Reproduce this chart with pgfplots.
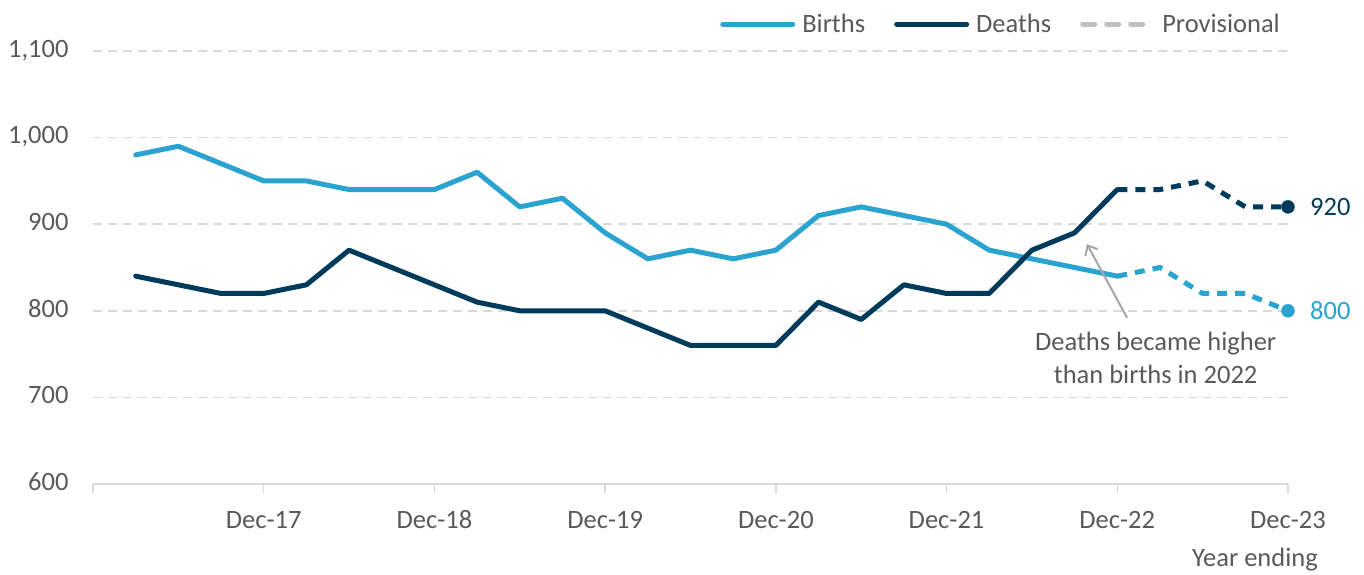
\documentclass[border=0pt]{standalone}
\usepackage{fontspec}
\setmainfont{Carlito}
\usepackage{pgfplots}
\pgfplotsset{compat=1.18}
\usetikzlibrary{arrows.meta}
\definecolor{births}{HTML}{2AA3D0}
\definecolor{deaths}{HTML}{003B5C}
\definecolor{txt}{HTML}{595959}
\definecolor{gridc}{HTML}{D9D9D9}
\definecolor{prov}{HTML}{BFBFBF}
\definecolor{arrowc}{HTML}{A6A6A6}
\begin{document}
\begin{tikzpicture}[font=\fontsize{26.5}{32}\selectfont]
\path[use as bounding box] (-93pt,-91pt) rectangle (1271pt,484pt);
\begin{axis}[
  at={(0pt,0pt)}, anchor=south west,
  scale only axis, width=1195pt, height=433pt,
  xmin=0, xmax=28, ymin=600, ymax=1100,
  clip=false,
  axis x line=bottom, axis y line=left,
  x axis line style={gridc, line width=1.5pt, -},
  y axis line style={draw=none},
  xtick={0,4,...,28},
  xticklabels={,Dec-17,Dec-18,Dec-19,Dec-20,Dec-21,Dec-22,Dec-23},
  ytick={600,700,...,1100},
  tick align=outside,
  major tick length=9pt,
  xtick style={gridc, line width=1.5pt},
  ytick style={draw=none},
  ymajorgrids,
  major grid style={gridc, line width=1.5pt, dash pattern=on 9pt off 6pt},
  /pgf/number format/assume math mode=true,
  /pgf/number format/1000 sep={,},
  typeset ticklabels with strut,
  ticklabel style={text=txt, font=\fontsize{26.5}{32}\selectfont},
  yticklabel style={xshift=-12pt},
  xticklabel style={yshift=-10pt},
  legend columns=3,
  legend cell align=left,
  legend style={at={(rel axis cs:0.995,1.09)}, anchor=north east, draw=none, fill=none,
    text=txt, font=\fontsize{26.5}{32}\selectfont, inner sep=0pt,
    /tikz/every odd column/.append style={column sep=5pt},
    /tikz/every even column/.append style={column sep=27pt}},
  legend image code/.code={\draw[line cap=round, #1] (0pt,0pt) -- (70pt,0pt);},
]
\addlegendimage{births, line width=5pt}
\addlegendentry{Births}
\addlegendimage{deaths, line width=5pt}
\addlegendentry{Deaths}
\addlegendimage{prov, line width=5pt, line cap=butt, dash pattern=on 12pt off 12pt}
\addlegendentry{Provisional}

\addplot[births, line width=5pt, line join=round, line cap=round, forget plot] coordinates {
(1,980) (2,990) (3,970) (4,950) (5,950) (6,940) (7,940) (8,940) (9,960) (10,920)
(11,930) (12,890) (13,860) (14,870) (15,860) (16,870) (17,910) (18,920) (19,910)
(20,900) (21,870) (22,860) (23,850) (24,840)};
\addplot[births, line width=5pt, line join=round, line cap=butt, dash pattern=on 10pt off 8pt, forget plot] coordinates {
(24,840) (25,850) (26,820) (27,820) (28,800)};
\addplot[deaths, line width=5pt, line join=round, line cap=round, forget plot] coordinates {
(1,840) (2,830) (3,820) (4,820) (5,830) (6,870) (7,850) (8,830) (9,810) (10,800)
(11,800) (12,800) (13,780) (14,760) (15,760) (16,760) (17,810) (18,790) (19,830)
(20,820) (21,820) (22,870) (23,890) (24,940)};
\addplot[deaths, line width=5pt, line join=round, line cap=butt, dash pattern=on 10pt off 8pt, forget plot] coordinates {
(24,940) (25,940) (26,950) (27,920) (28,920)};
\addplot[only marks, mark=*, mark size=6.5pt, births, forget plot] coordinates {(28,800)};
\addplot[only marks, mark=*, mark size=6.5pt, deaths, forget plot] coordinates {(28,920)};

\node[anchor=west, inner sep=0pt, text=deaths, xshift=22pt] at (axis cs:28,920) {920};
\node[anchor=west, inner sep=0pt, text=births, xshift=22pt] at (axis cs:28,800) {800};
\draw[arrowc, line width=2pt, -{Straight Barb[length=8pt,width=14pt]}] (axis cs:24.23,792) -- (axis cs:23.29,877);
\node[align=center, text=txt, inner sep=0pt, font=\fontsize{26.5}{33}\selectfont] at (axis cs:24.9,746) {Deaths became higher\\than births in 2022};
\node[anchor=east, inner sep=0pt, text=txt] at (rel axis cs:1,0) [xshift=30pt, yshift=-76pt] {Year ending};
\end{axis}
\end{tikzpicture}
\end{document}
